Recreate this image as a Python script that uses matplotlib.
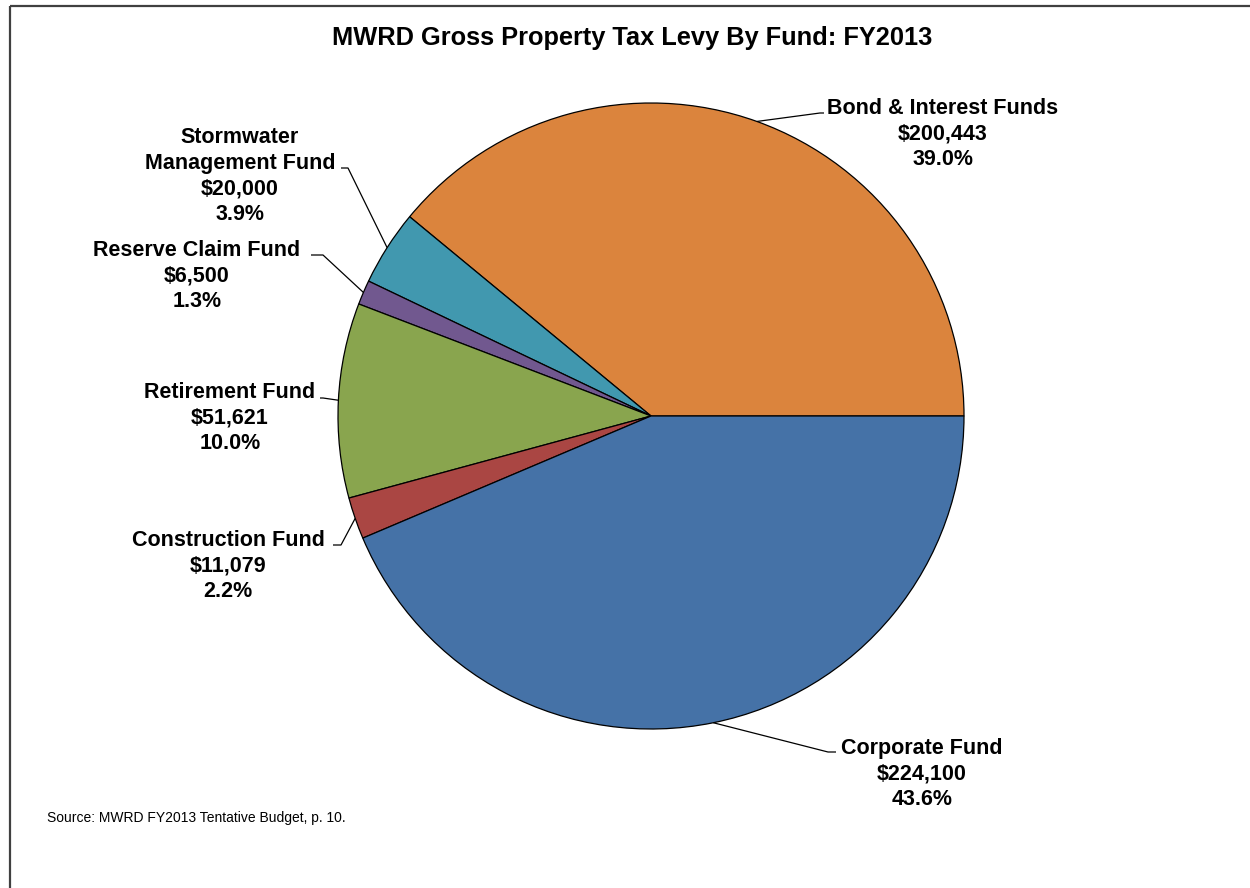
import numpy as np
import matplotlib
matplotlib.use("Agg")
import matplotlib.pyplot as plt

# Data (counter-clockwise from 3 o'clock)
funds = ["Bond & Interest Funds", "Stormwater\nManagement Fund", "Reserve Claim Fund",
         "Retirement Fund", "Construction Fund", "Corporate Fund"]
amounts = [200443, 20000, 6500, 51621, 11079, 224100]
pct_labels = ["39.0%", "3.9%", "1.3%", "10.0%", "2.2%", "43.6%"]
colors = ["#DB843D", "#4198AF", "#71588F", "#89A54E", "#AA4643", "#4572A7"]
title = "MWRD Gross Property Tax Levy By Fund: FY2013"
source = "Source: MWRD FY2013 Tentative Budget, p. 10."

W, H = 1250, 888
fig = plt.figure(figsize=(W / 100, H / 100), dpi=100)
ax = fig.add_axes([0, 0, 1, 1])

plt.rcParams["font.family"] = ["Liberation Sans", "DejaVu Sans"]

cx, cy, r = 651, H - 416, 313
wedges, _ = ax.pie(amounts, colors=colors, startangle=0, counterclock=True,
                   center=(cx, cy), radius=r, frame=True,
                   wedgeprops=dict(edgecolor="black", linewidth=0.9))
ax.set_xlim(0, W)
ax.set_ylim(0, H)
ax.set_aspect("equal")
ax.axis("off")

# label layout: text center (x, y from top), elbow points (from top)
label_pos = [(943, 134), (240, 176), (197, 276), (230, 418), (228, 566), (922, 774)]
elbows = [
    [(820, 113), (824, 113)],
    [(348, 168), (341, 168)],
    [(323, 255), (311, 255)],
    [(323, 398), (320, 398)],
    [(341, 545), (333, 545)],
    [(828, 752), (836, 752)],
]

for w, name, amt, pct, (tx, ty), el in zip(wedges, funds, amounts, pct_labels, label_pos, elbows):
    mid = np.deg2rad((w.theta1 + w.theta2) / 2)
    sx, sy = cx + r * np.cos(mid), cy + r * np.sin(mid)
    xs = [sx] + [p[0] for p in el]
    ys = [sy] + [H - p[1] for p in el]
    ax.plot(xs, ys, color="black", lw=0.9, solid_capstyle="butt")
    ax.text(tx, H - ty, f"{name}\n${amt:,}\n{pct}", ha="center", va="center",
            fontsize=15.5, fontweight="bold", linespacing=1.29, color="black")

ax.text(632, H - 38, title, ha="center", va="center", fontsize=18.3, fontweight="bold")
ax.text(47, H - 818, source, ha="left", va="center", fontsize=10)

# chart border (top and left visible)
ax.plot([9.5, W], [H - 6.5, H - 6.5], color="#404040", lw=1.6, solid_capstyle="butt")
ax.plot([9.5, 9.5], [0, H - 6.5], color="#404040", lw=1.6, solid_capstyle="butt")

fig.savefig("out.png", dpi=100, facecolor="white")
